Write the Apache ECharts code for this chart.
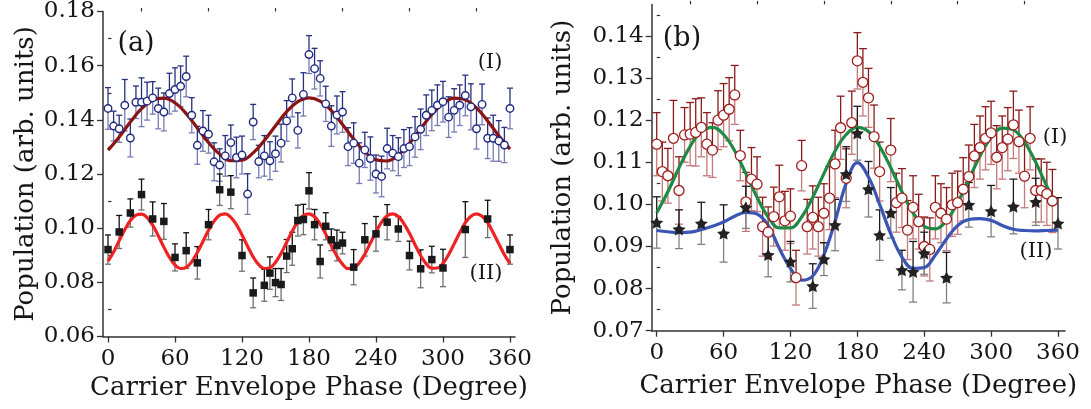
<!DOCTYPE html>
<html><head><meta charset="utf-8">
<script src="https://cdn.jsdelivr.net/npm/echarts@6/dist/echarts.min.js"></script>
<style>html,body{margin:0;padding:0;background:#fff}#c{width:1091px;height:409px}</style>
</head><body><div id="c"></div>
<script>
// ---------- Panel (a) data ----------
const aIx = [0,5,10,15,20,25,30,35,40,45,50,55,60,65,70,75,80,85,90,95,100,105,110,115,120,125,130,135,140,145,150,155,160,165,170,175,180,185,190,195,200,205,210,215,220,225,230,235,240,245,250,255,260,265,270,275,280,285,290,295,300,305,310,315,320,325,330,335,340,345,350,355,360];
const aIy = [0.1442,0.1377,0.1367,0.1454,0.1333,0.1465,0.1465,0.1469,0.1481,0.1442,
  0.1429,0.1497,0.1512,0.1524,0.1560,0.1417,0.1306,0.1359,0.1347,0.1245,
  0.1233,0.1267,0.1316,0.1261,0.1270,0.1126,0.1392,0.1246,0.1267,0.1249,
  0.1275,0.1314,0.1396,0.1481,0.1361,0.1494,0.1641,0.1589,0.1553,0.1459,
  0.1377,0.1418,0.1429,0.1301,0.1314,0.1240,0.1289,0.1257,0.1200,0.1191,
  0.1294,0.1277,0.1264,0.1294,0.1301,0.1337,0.1365,0.1417,0.1435,0.1454,
  0.1467,0.1410,0.1435,0.1454,0.1490,0.1448,0.1367,0.1457,0.1332,0.1332,
  0.1322,0.1307,0.1442];
const aIerr = [0.0077,0.0055,0.0050,0.0095,0.0070,0.0060,0.0090,0.0070,0.0060,0.0075,
  0.0070,0.0075,0.0080,0.0075,0.0075,0.0065,0.0070,0.0075,0.0070,0.0070,
  0.0060,0.0075,0.0065,0.0075,0.0070,0.0075,0.0065,0.0060,0.0075,0.0070,
  0.0065,0.0070,0.0075,0.0070,0.0065,0.0080,0.0070,0.0075,0.0065,0.0065,
  0.0075,0.0070,0.0075,0.0070,0.0075,0.0075,0.0065,0.0080,0.0070,0.0075,
  0.0075,0.0065,0.0070,0.0070,0.0070,0.0075,0.0075,0.0075,0.0075,0.0075,
  0.0075,0.0075,0.0080,0.0075,0.0075,0.0085,0.0075,0.0075,0.0075,0.0085,
  0.0075,0.0065,0.0075];
const aIIx = [0,10,20,30,40,50,60,70,80,90,100,110,120,130,140,145,150,155,160,165,170,175,180,185,190,195,200,205,210,220,230,240,250,260,270,280,290,300,320,340,360];
const aIIy = [0.0921,0.0986,0.1056,0.1124,0.1034,0.1025,0.0892,0.0917,0.0872,0.1013,
  0.1142,0.1133,0.0899,0.0761,0.0789,0.0834,0.0799,0.0792,0.0897,0.0924,
  0.1028,0.1032,0.1138,0.1013,0.0877,0.1007,0.0957,0.0936,0.0945,0.0856,
  0.0957,0.0979,0.1022,0.0997,0.0899,0.0850,0.0884,0.0853,0.0995,0.1034,0.0921];
const aIIerr = [0.0054,0.0061,0.0052,0.0057,0.0063,0.0066,0.0050,0.0066,0.0060,0.0056,
  0.0058,0.0061,0.0058,0.0055,0.0059,0.0060,0.0052,0.0059,0.0061,0.0061,
  0.0057,0.0056,0.0067,0.0056,0.0061,0.0050,0.0040,0.0057,0.0040,0.0065,
  0.0060,0.0064,0.0065,0.0046,0.0053,0.0070,0.0049,0.0069,0.0103,0.0069,0.0054];
const aIfitX = [0,10,20,30,40,50,60,70,80,90,100,110,120,130,140,150,160,170,180,190,200,210,220,230,240,250,260,270,280,290,300,310,320,330,340,350,360];
const aIfitY = [0.1288,0.1337,0.1392,0.1441,0.1473,0.1480,0.1463,0.1423,0.1370,0.1316,0.1273,0.1249,0.1251,0.1278,0.1324,0.1378,0.1430,0.1467,0.1481,0.1469,0.1434,0.1383,0.1329,0.1282,0.1252,0.1248,0.1270,0.1313,0.1367,0.1420,0.1460,0.1480,0.1474,0.1444,0.1396,0.1341,0.1292];
const aIIfitX = aIx;
const aIIfitY = [0.0878,0.0912,0.0954,0.0994,0.1028,0.1048,0.1052,0.1039,0.1011,0.0972,
  0.0930,0.0892,0.0864,0.0851,0.0855,0.0876,0.0910,0.0951,0.0992,0.1026,
  0.1048,0.1053,0.1040,0.1013,0.0975,0.0933,0.0894,0.0865,0.0851,0.0854,
  0.0874,0.0907,0.0948,0.0989,0.1024,0.1047,0.1053,0.1042,0.1015,0.0978,
  0.0936,0.0897,0.0867,0.0851,0.0853,0.0872,0.0904,0.0945,0.0986,0.1022,
  0.1046,0.1053,0.1043,0.1017,0.0981,0.0939,0.0899,0.0868,0.0852,0.0853,
  0.0870,0.0902,0.0942,0.0983,0.1020,0.1044,0.1053,0.1044,0.1020,0.0983,
  0.0942,0.0902,0.0870];

// ---------- Panel (b) data ----------
const bIx = [0,5,10,15,20,25,30,35,40,45,50,55,60,65,70,75,80,85,90,95,100,105,110,115,120,125,130,135,140,145,150,155,160,165,170,175,180,185,190,195,200,210,215,220,225,230,235,240,245,250,255,260,265,270,275,280,285,290,295,300,305,310,315,320,325,330,335,340,345,350,355];
const bIy = [0.1143,0.1078,0.1068,0.1157,0.1033,0.1165,0.1167,0.1171,0.1183,0.1143,
  0.1129,0.1200,0.1212,0.1226,0.1260,0.1116,0.1006,0.1060,0.1048,0.0947,
  0.0934,0.0971,0.1018,0.0961,0.0972,0.0826,0.1092,0.0947,0.0969,0.0947,
  0.0979,0.1015,0.1096,0.1182,0.1062,0.1194,0.1341,0.1290,0.1253,0.1161,
  0.1078,
  0.1129,0.1004,0.1015,0.0939,0.0993,0.0959,0.0900,0.0893,0.0993,0.0979,
  0.0965,0.0999,0.1004,0.1036,0.1066,0.1115,0.1135,0.1157,0.1170,0.1112,
  0.1135,0.1155,0.1189,0.1149,0.1067,0.1157,0.1033,0.1033,0.1025,0.1008];
const bIerr = [0.0075,0.0070,0.0065,0.0090,0.0080,0.0065,0.0075,0.0080,0.0070,0.0075,
  0.0065,0.0070,0.0075,0.0075,0.0070,0.0060,0.0070,0.0075,0.0065,0.0070,
  0.0060,0.0070,0.0075,0.0070,0.0065,0.0065,0.0060,0.0065,0.0075,0.0070,
  0.0070,0.0075,0.0080,0.0075,0.0070,0.0075,0.0067,0.0080,0.0070,0.0075,
  0.0070,
  0.0075,0.0070,0.0070,0.0070,0.0075,0.0065,0.0070,0.0075,0.0075,0.0070,
  0.0075,0.0075,0.0075,0.0075,0.0075,0.0075,0.0075,0.0075,0.0075,0.0075,
  0.0075,0.0075,0.0080,0.0075,0.0075,0.0075,0.0075,0.0075,0.0075,0.0075];
const bIIx = [0,20,40,60,80,100,120,140,150,160,170,180,190,200,210,220,230,240,260,280,300,320,340,360];
const bIIy = [0.0957,0.0941,0.0955,0.0931,0.0993,0.0880,0.0864,0.0806,0.0870,0.0951,0.1072,0.1169,0.1036,0.0927,0.0980,0.0844,0.0840,0.0884,0.0826,0.0999,0.0984,0.0995,0.1006,0.0955];
const bIIerr = [0.0061,0.0046,0.0050,0.0068,0.0050,0.0052,0.0048,0.0053,0.0039,0.0061,0.0065,0.0064,0.0066,0.0060,0.0060,0.0047,0.0072,0.0050,0.0060,0.0053,0.0061,0.0065,0.0056,0.0061];
const bIfitX = [0,10,20,30,40,50,60,70,80,90,100,110,120,130,140,150,160,170,180,190,200,210,220,230,240,250,260,270,280,290,300,310,320,330,340,350,355];
const bIfitY = [0.0980,0.1030,0.1087,0.1138,0.1173,0.1183,0.1166,0.1127,0.1073,0.1017,
  0.0970,0.0944,0.0944,0.0970,0.1017,0.1073,0.1127,0.1166,0.1183,0.1173,
  0.1138,0.1087,0.1030,0.0980,0.0948,0.0942,0.0962,0.1004,0.1059,0.1115,
  0.1159,0.1181,0.1177,0.1148,0.1100,0.1043,0.1016];
const bIIfitX = aIfitX;
const bIIfitY = [0.0938,0.0935,0.0933,0.0934,0.0940,0.0948,0.0958,0.0972,0.0981,0.0977,
  0.0950,0.0895,0.0848,0.0820,0.0830,0.0880,0.0960,0.1050,0.1099,0.1065,
  0.1000,0.0930,0.0875,0.0848,0.0850,0.0880,0.0918,0.0950,0.0964,0.0966,
  0.0962,0.0950,0.0941,0.0938,0.0937,0.0938,0.0939];

// ---------- tick labels ----------
const xTicks = [0,60,120,180,240,300,360];
const xMinor = [30,90,150,210,270,330];
const aYTicks = [0.06,0.08,0.10,0.12,0.14,0.16,0.18];
const aYMinor = [0.07,0.09,0.11,0.13,0.15,0.17];
const bYTicks = [0.07,0.08,0.09,0.10,0.11,0.12,0.13,0.14];
const bYMinor = [0.075,0.085,0.095,0.105,0.115,0.125,0.135,0.145];
const xTitle = 'Carrier Envelope Phase (Degree)';
const yTitle = 'Population (arb. units)';

const FONT = 'DejaVu Serif';
const TXT = '#161616';
const zip = (xs, ys, es) => xs.map((x, i) => es ? [x, ys[i], es[i]] : [x, ys[i]]);

const grids = [
  {left: 103, top: 10, width: 412, height: 326.5},
  {left: 651.7, top: 4.4, width: 413.3, height: 326.3}
];
function xAxes(gi, min, max, gap) {
  return [{
    type: 'value', gridIndex: gi, min: min, max: max,
    name: xTitle, nameLocation: 'middle', nameGap: gap,
    nameTextStyle: {fontFamily: FONT, fontSize: 26, color: TXT},
    axisLine: {show: true, onZero: false, lineStyle: {color: '#333', width: 1.5}},
    axisTick: {show: true, inside: false, length: 6, customValues: xTicks, lineStyle: {color: '#333', width: 1.3}},
    axisLabel: {show: true, margin: 11, customValues: xTicks, fontFamily: FONT, fontSize: 23, color: TXT},
    splitLine: {show: false}
  }, {
    type: 'value', gridIndex: gi, min: min, max: max,
    axisLine: {show: false},
    axisTick: {show: true, inside: false, length: 3.5, customValues: xMinor, lineStyle: {color: '#333', width: 1.2}},
    axisLabel: {show: false}, splitLine: {show: false}
  }];
}
function yAxes(gi, min, max, ticks, minor, gap) {
  return [{
    type: 'value', gridIndex: gi, min: min, max: max,
    name: yTitle, nameLocation: 'middle', nameGap: gap, nameRotate: 90,
    nameTextStyle: {fontFamily: FONT, fontSize: 26, color: TXT},
    axisLine: {show: true, onZero: false, lineStyle: {color: '#333', width: 1.5}},
    axisTick: {show: true, inside: false, length: 6, customValues: ticks, lineStyle: {color: '#333', width: 1.3}},
    axisLabel: {show: true, margin: 8, customValues: ticks, fontFamily: FONT, fontSize: 23, color: TXT,
      formatter: v => Number(v).toFixed(2)},
    splitLine: {show: false}
  }, {
    type: 'value', gridIndex: gi, min: min, max: max,
    axisLine: {show: false},
    axisTick: {show: true, inside: false, length: 3.5, customValues: minor, lineStyle: {color: '#333', width: 1.2}},
    axisLabel: {show: false}, splitLine: {show: false}
  }];
}

function errSeries(data, xi, yi, dark, light, cap) {
  return {
    type: 'custom', xAxisIndex: xi, yAxisIndex: yi, data: data, z: 1, clip: false,
    encode: {x: 0, y: 1},
    renderItem: function (params, api) {
      const x = api.value(0), y = api.value(1), e = api.value(2);
      const c = api.coord([x, y]);
      const t = api.coord([x, y + e]);
      const b = api.coord([x, y - e]);
      const h = cap / 2;
      return {type: 'group', children: [
        {type: 'line', shape: {x1: c[0], y1: c[1], x2: t[0], y2: t[1]}, style: {stroke: dark, lineWidth: 1.3}},
        {type: 'line', shape: {x1: t[0] - h, y1: t[1], x2: t[0] + h, y2: t[1]}, style: {stroke: dark, lineWidth: 1.3}},
        {type: 'line', shape: {x1: c[0], y1: c[1], x2: b[0], y2: b[1]}, style: {stroke: light, lineWidth: 1.3}},
        {type: 'line', shape: {x1: b[0] - h, y1: b[1], x2: b[0] + h, y2: b[1]}, style: {stroke: light, lineWidth: 1.3}}
      ]};
    }
  };
}
function fitSeries(xs, ys, xi, yi, color, smooth) {
  return {type: 'line', xAxisIndex: xi, yAxisIndex: yi, data: zip(xs, ys), showSymbol: false, symbol: 'none',
    smooth: smooth, z: 2, lineStyle: {color: color, width: 3.2}, silent: true};
}
function ptSeries(xs, ys, xi, yi, symbol, size, fill, stroke, bw) {
  return {type: 'scatter', xAxisIndex: xi, yAxisIndex: yi, data: zip(xs, ys), symbol: symbol, symbolSize: size,
    symbolKeepAspect: true, z: 3, itemStyle: {color: fill, borderColor: stroke, borderWidth: bw, opacity: 1}};
}
const STAR = 'path://M0,-10 L2.939,-4.045 L9.511,-3.090 L4.755,1.545 L5.878,8.090 L0,5 L-5.878,8.090 L-4.755,1.545 L-9.511,-3.090 L-2.939,-4.045 Z';

const xa = xAxes(0, -4.5, 364.5, 34), xb = xAxes(1, -4.5, 366.3, 43);
const ya = yAxes(0, 0.06, 0.18, aYTicks, aYMinor, 64), yb = yAxes(1, 0.07, 0.1475, bYTicks, bYMinor, 75);

const txt = (s, x, y, size) => ({type: 'text', x: x, y: y, style: {text: s, fontFamily: FONT, fontSize: size, fill: '#161616', textAlign: 'center', textVerticalAlign: 'middle'}});

const option = {
  animation: false,
  backgroundColor: '#fff',
  grid: grids,
  xAxis: [xa[0], xa[1], xb[0], xb[1]],
  yAxis: [ya[0], ya[1], yb[0], yb[1]],
  series: [
    errSeries(zip(aIx, aIy, aIerr), 0, 0, '#26307f', '#777bb5', 6),
    errSeries(zip(aIIx, aIIy, aIIerr), 0, 0, '#111111', '#707070', 6),
    fitSeries(aIfitX, aIfitY, 0, 0, '#8a1414', 0.4),
    fitSeries(aIIfitX, aIIfitY, 0, 0, '#ee2222', 0.4),
    ptSeries(aIx, aIy, 0, 0, 'circle', 7.5, '#ffffff', '#1f2a80', 1.4),
    ptSeries(aIIx, aIIy, 0, 0, 'rect', 7.5, '#1a1a1a', '#1a1a1a', 0),
    errSeries(zip(bIx, bIy, bIerr), 2, 2, '#8b1a1a', '#c47a7a', 8),
    errSeries(zip(bIIx, bIIy, bIIerr), 2, 2, '#1a1a1a', '#808080', 8),
    fitSeries(bIfitX, bIfitY, 2, 2, '#1f8a45', 0.4),
    fitSeries(bIIfitX, bIIfitY, 2, 2, '#3b55b5', 0.4),
    ptSeries(bIx, bIy, 2, 2, 'circle', 10, '#ffffff', '#a01c1c', 1.3),
    ptSeries(bIIx, bIIy, 2, 2, STAR, 13, '#222222', '#222222', 0)
  ],
  graphic: [
    txt('(a)', 136, 44, 27),
    txt('(b)', 682, 39, 27),
    txt('(I)', 490, 63, 21),
    txt('(II)', 486, 274, 21),
    txt('(I)', 1055, 138, 21),
    txt('(II)', 1036, 252, 21)
  ]
};
const chart = echarts.init(document.getElementById('c'), null, {renderer: 'canvas'});
chart.setOption(option);
</script></body></html>
